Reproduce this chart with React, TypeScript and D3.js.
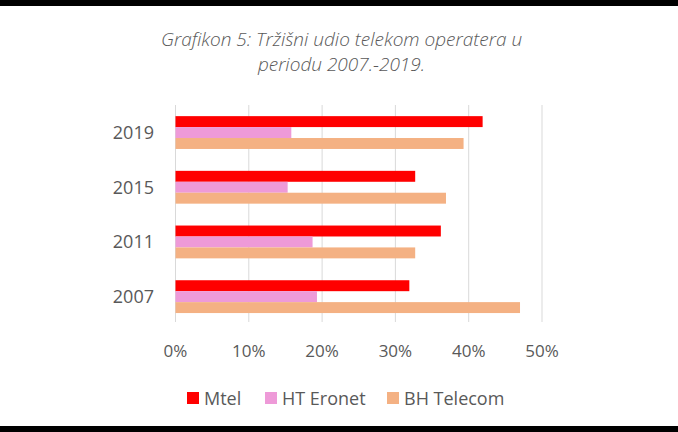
import React, { useEffect } from "react";
import * as d3 from "d3";

const years = ["2019", "2015", "2011", "2007"];
const seriesNames = ["Mtel", "HT Eronet", "BH Telecom"];
const mtel = [0.419, 0.327, 0.362, 0.319];
const htEronet = [0.158, 0.153, 0.187, 0.193];
const bhTelecom = [0.393, 0.369, 0.327, 0.470];
const colors = ["#ff0000", "#ee9ad8", "#f4b183"];
const xTicks = [0, 0.1, 0.2, 0.3, 0.4, 0.5];
const titleLines = ["Grafikon 5: Tržišni udio telekom operatera u", "periodu 2007.-2019."];

const W = 678;
const H = 432;

export default function App() {
  useEffect(() => {
    document.body.style.margin = "0";
  }, []);

  const seriesValues = [mtel, htEronet, bhTelecom];
  const x = d3.scaleLinear().domain([0, 0.5]).range([175.5, 542]);
  const y = d3.scaleBand().domain(years).range([105.2, 324]).paddingInner(0.4).paddingOuter(0.2);
  const inner = d3.scaleBand().domain(seriesNames).range([0, y.bandwidth()]);
  const fmt = d3.format(".0%");
  const font = "'Open Sans', sans-serif";
  const grey = "#595959";

  const legendItems = [
    { name: seriesNames[0], x: 187 },
    { name: seriesNames[1], x: 265 },
    { name: seriesNames[2], x: 387 },
  ];

  return (
    <svg width={W} height={H} style={{ position: "absolute", left: 0, top: 0, display: "block" }}>
      <rect x={0} y={0} width={W} height={H} fill="#ffffff" />
      <rect x={0} y={0} width={W} height={6} fill="#000000" />
      <rect x={0} y={426} width={W} height={6} fill="#000000" />

      {titleLines.map((t, i) => (
        <text
          key={i}
          x={341.5}
          y={46 + i * 25}
          textAnchor="middle"
          fontFamily={font}
          fontStyle="italic"
          fontWeight={300}
          fontSize={19}
          fill={grey}
        >
          {t}
        </text>
      ))}

      {xTicks.map((t) => (
        <g key={t}>
          <line x1={x(t)} x2={x(t)} y1={105} y2={322} stroke="#d9d9d9" strokeWidth={1} />
          <text x={x(t)} y={356.7} textAnchor="middle" fontFamily={font} fontSize={17} fill={grey}>
            {fmt(t)}
          </text>
        </g>
      ))}

      {years.map((yr, yi) => (
        <g key={yr} transform={`translate(0,${y(yr)})`}>
          {seriesNames.map((s, si) => (
            <rect
              key={s}
              x={x(0)}
              y={inner(s)}
              width={x(seriesValues[si][yi]) - x(0)}
              height={inner.bandwidth()}
              fill={colors[si]}
            />
          ))}
          <text
            x={154}
            y={y.bandwidth() / 2}
            dy="0.36em"
            textAnchor="end"
            fontFamily={font}
            fontSize={18}
            fill={grey}
          >
            {yr}
          </text>
        </g>
      ))}

      {legendItems.map((it, i) => (
        <g key={it.name}>
          <rect x={it.x} y={392} width={12} height={12} fill={colors[i]} />
          <text x={it.x + 17} y={405} fontFamily={font} fontSize={18} fill={grey}>
            {it.name}
          </text>
        </g>
      ))}
    </svg>
  );
}
